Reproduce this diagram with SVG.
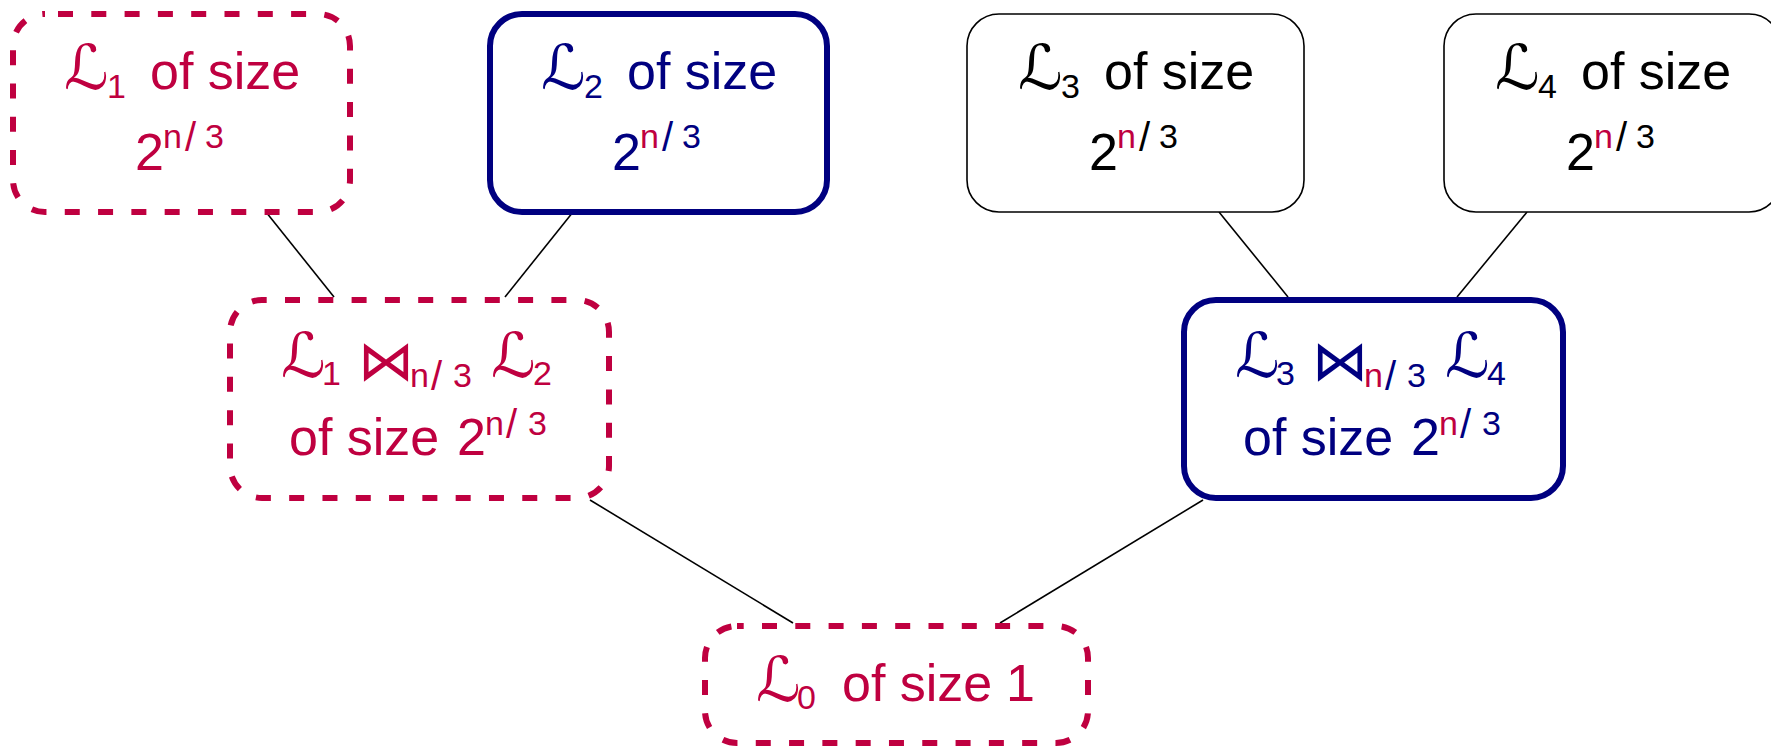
<svg xmlns="http://www.w3.org/2000/svg" width="1771" height="746" viewBox="0 0 1771 746">
<style>
.bg{fill:#ffffff}
.t{font-family:"Liberation Sans",Arial,sans-serif;font-size:52px}
.s{font-family:"Liberation Sans",Arial,sans-serif;font-size:34px}
.sl{font-family:"Liberation Sans",Arial,sans-serif;font-size:40px}
.L{font-family:"DejaVu Sans",sans-serif;font-size:62px}
.bt{font-family:"DejaVu Sans",sans-serif;font-size:56px;font-weight:200}
.cr{fill:#BF0040}
.nv{fill:#000080}
.bk{fill:#000000}
.dash{fill:#ffffff;stroke:#BF0040;stroke-width:6;stroke-dasharray:15 18.3}
.solid{fill:#ffffff;stroke:#000080;stroke-width:6}
.thin{fill:#ffffff;stroke:#000000;stroke-width:1.6}
.edge{stroke:#000000;stroke-width:1.6;fill:none}
</style>
<rect class="bg" x="0" y="0" width="1771" height="746"/>
<g id="connectors">
<line class="edge" x1="266" y1="212" x2="334" y2="297"/>
<line class="edge" x1="573" y1="212" x2="505" y2="297"/>
<line class="edge" x1="1219" y1="212" x2="1288" y2="297"/>
<line class="edge" x1="1527" y1="212" x2="1457" y2="297"/>
<line class="edge" x1="590" y1="500" x2="793" y2="623"/>
<line class="edge" x1="1203" y1="500" x2="1000" y2="623"/>
</g>
<g id="L1">
<rect class="dash" x="13" y="14" width="337" height="198" rx="32" stroke-dashoffset="20.3"/>
<text class="cr"><tspan class="L" x="64" y="89">ℒ</tspan><tspan class="s" x="107" y="98">1</tspan><tspan class="t" x="150" y="89">of size</tspan></text>
<text class="cr"><tspan class="t" x="135" y="170">2</tspan><tspan class="s" x="163" y="148">n</tspan><tspan class="sl" x="185" y="151">/</tspan><tspan class="s" x="205" y="148">3</tspan></text>
</g>
<g id="L2" transform="translate(477,0)">
<rect class="solid" x="13" y="14" width="337" height="198" rx="32"/>
<text class="nv"><tspan class="L" x="64" y="89">ℒ</tspan><tspan class="s" x="107" y="98">2</tspan><tspan class="t" x="150" y="89">of size</tspan></text>
<text class="nv"><tspan class="t" x="135" y="170">2</tspan><tspan class="s cr" x="163" y="148">n</tspan><tspan class="sl" x="185" y="151">/</tspan><tspan class="s" x="205" y="148">3</tspan></text>
</g>
<g id="L3" transform="translate(954,0)">
<rect class="thin" x="13" y="14" width="337" height="198" rx="32"/>
<text class="bk"><tspan class="L" x="64" y="89">ℒ</tspan><tspan class="s" x="107" y="98">3</tspan><tspan class="t" x="150" y="89">of size</tspan></text>
<text class="bk"><tspan class="t" x="135" y="170">2</tspan><tspan class="s cr" x="163" y="148">n</tspan><tspan class="sl" x="185" y="151">/</tspan><tspan class="s" x="205" y="148">3</tspan></text>
</g>
<g id="L4" transform="translate(1431,0)">
<rect class="thin" x="13" y="14" width="337" height="198" rx="32"/>
<text class="bk"><tspan class="L" x="64" y="89">ℒ</tspan><tspan class="s" x="107" y="98">4</tspan><tspan class="t" x="150" y="89">of size</tspan></text>
<text class="bk"><tspan class="t" x="135" y="170">2</tspan><tspan class="s cr" x="163" y="148">n</tspan><tspan class="sl" x="185" y="151">/</tspan><tspan class="s" x="205" y="148">3</tspan></text>
</g>
<g id="J12">
<rect class="dash" x="230" y="300" width="379" height="198" rx="32" stroke-dashoffset="10.3"/>
<text class="cr"><tspan class="L" x="281" y="377">ℒ</tspan><tspan class="s" x="322" y="385">1</tspan></text>
<text class="bt cr" x="358" y="380">⋈</text>
<text class="cr"><tspan class="s" x="410" y="387">n</tspan><tspan class="sl" x="431" y="390">/</tspan><tspan class="s" x="453" y="387">3</tspan><tspan class="L" x="491" y="377">ℒ</tspan><tspan class="s" x="533" y="385">2</tspan></text>
<text class="cr"><tspan class="t" x="289" y="455">of size</tspan><tspan class="t" x="457" y="455">2</tspan><tspan class="s" x="485" y="435">n</tspan><tspan class="sl" x="506" y="438">/</tspan><tspan class="s" x="528" y="435">3</tspan></text>
</g>
<g id="J34" transform="translate(954,0)">
<rect class="solid" x="230" y="300" width="379" height="198" rx="32"/>
<text class="nv"><tspan class="L" x="281" y="377">ℒ</tspan><tspan class="s" x="322" y="385">3</tspan></text>
<text class="bt nv" x="358" y="380">⋈</text>
<text class="nv"><tspan class="s cr" x="410" y="387">n</tspan><tspan class="sl" x="431" y="390">/</tspan><tspan class="s" x="453" y="387">3</tspan><tspan class="L" x="491" y="377">ℒ</tspan><tspan class="s" x="533" y="385">4</tspan></text>
<text class="nv"><tspan class="t" x="289" y="455">of size</tspan><tspan class="t" x="457" y="455">2</tspan><tspan class="s cr" x="485" y="435">n</tspan><tspan class="sl" x="506" y="438">/</tspan><tspan class="s" x="528" y="435">3</tspan></text>
</g>
<g id="L0">
<rect class="dash" x="705" y="626" width="383" height="117" rx="32" stroke-dashoffset="8.3"/>
<text class="cr"><tspan class="L" x="756" y="701">ℒ</tspan><tspan class="s" x="797" y="709">0</tspan><tspan class="t" x="842" y="701">of size</tspan><tspan class="t" x="1006" y="701">1</tspan></text>
</g>
</svg>
